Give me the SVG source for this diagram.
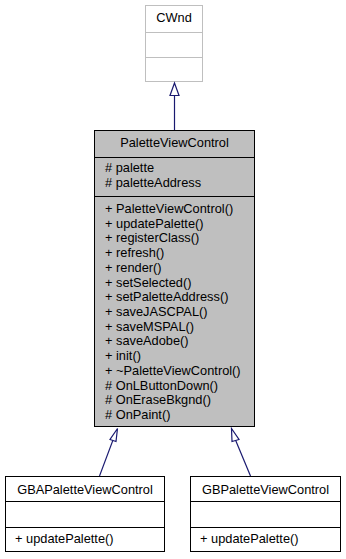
<svg xmlns="http://www.w3.org/2000/svg" width="346" height="559" viewBox="0 0 346 559">
  <style>
    text { font-family: "Liberation Sans", Arial, sans-serif; font-size: 12.8px; fill: #000; }
    .c { text-anchor: middle; }
    .box { fill: #fff; stroke: #000; stroke-width: 1; }
    .ext { fill: #fff; stroke: #bfbfbf; stroke-width: 1; }
    .main { fill: #bfbfbf; stroke: #000; stroke-width: 1; }
    .edge { stroke: #191970; stroke-width: 1.2; fill: none; }
    .head { fill: #fff; stroke: #191970; stroke-width: 1.2; }
  </style>
  <rect width="346" height="559" fill="#fff"/>

  <!-- external base class -->
  <g id="CWnd">
    <rect class="ext" x="145.5" y="5.5" width="57" height="76"/>
    <line class="ext" x1="145.5" y1="32.5" x2="202.5" y2="32.5"/>
    <line class="ext" x1="145.5" y1="57.5" x2="202.5" y2="57.5"/>
    <text class="c" x="174" y="21.5">CWnd</text>
  </g>

  <!-- main class -->
  <g id="PaletteViewControl">
    <rect class="main" x="94.5" y="130.5" width="160" height="296"/>
    <line class="main" x1="94.5" y1="157.5" x2="254.5" y2="157.5"/>
    <line class="main" x1="94.5" y1="196.5" x2="254.5" y2="196.5"/>
    <text class="c" x="174.5" y="147">PaletteViewControl</text>
    <text x="105" y="172">#&#160;palette</text>
    <text x="105" y="186.5">#&#160;paletteAddress</text>
    <text x="105" y="213">+ PaletteViewControl()</text>
    <text x="105" y="227.7">+ updatePalette()</text>
    <text x="105" y="242.4">+ registerClass()</text>
    <text x="105" y="257.1">+ refresh()</text>
    <text x="105" y="271.9">+ render()</text>
    <text x="105" y="286.6">+ setSelected()</text>
    <text x="105" y="301.3">+ setPaletteAddress()</text>
    <text x="105" y="316">+ saveJASCPAL()</text>
    <text x="105" y="330.7">+ saveMSPAL()</text>
    <text x="105" y="345.4">+ saveAdobe()</text>
    <text x="105" y="360.1">+ init()</text>
    <text x="105" y="374.9">+ ~PaletteViewControl()</text>
    <text x="105" y="389.6">#&#160;OnLButtonDown()</text>
    <text x="105" y="404.3">#&#160;OnEraseBkgnd()</text>
    <text x="105" y="419">#&#160;OnPaint()</text>
  </g>

  <!-- derived classes -->
  <g id="GBAPaletteViewControl">
    <rect class="box" x="5.5" y="476.5" width="159" height="75"/>
    <line class="box" x1="5.5" y1="501.5" x2="164.5" y2="501.5"/>
    <line class="box" x1="5.5" y1="527.5" x2="164.5" y2="527.5"/>
    <text class="c" x="85" y="494">GBAPaletteViewControl</text>
    <text x="15" y="543">+ updatePalette()</text>
  </g>
  <g id="GBPaletteViewControl">
    <rect class="box" x="190.5" y="476.5" width="150" height="75"/>
    <line class="box" x1="190.5" y1="501.5" x2="340.5" y2="501.5"/>
    <line class="box" x1="190.5" y1="527.5" x2="340.5" y2="527.5"/>
    <text class="c" x="265.5" y="494">GBPaletteViewControl</text>
    <text x="200" y="543">+ updatePalette()</text>
  </g>

  <!-- inheritance connectors -->
  <g id="connectors">
    <line class="edge" x1="174.5" y1="130" x2="174.5" y2="95.5"/>
    <polygon class="head" points="174.5,83 170,95.5 179,95.5"/>
    <line class="edge" x1="99.5" y1="476" x2="113" y2="440"/>
    <polygon class="head" points="117.5,428.5 110,439.5 116,441.5"/>
    <line class="edge" x1="250.5" y1="476" x2="235.5" y2="440"/>
    <polygon class="head" points="231.5,428.5 232,441.5 239,439.5"/>
  </g>
</svg>
